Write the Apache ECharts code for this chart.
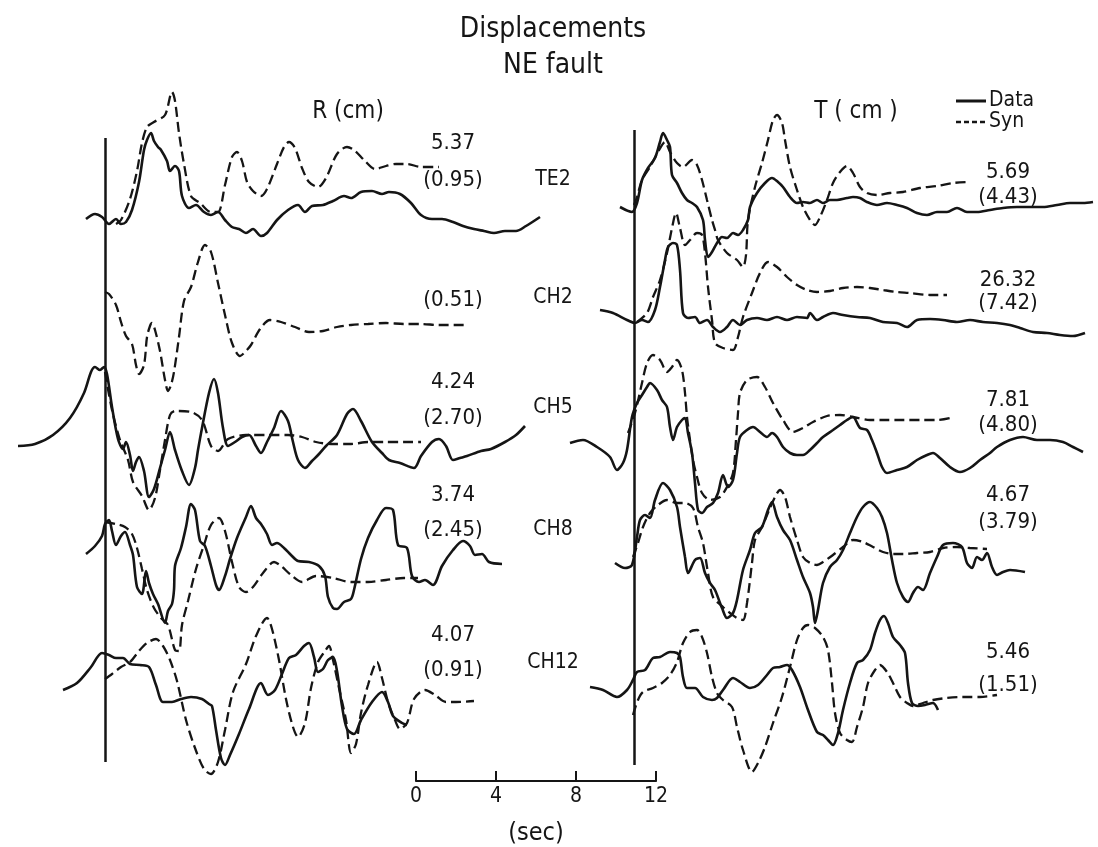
<!DOCTYPE html>
<html><head><meta charset="utf-8">
<script src="https://cdn.jsdelivr.net/npm/echarts@6/dist/echarts.min.js"></script>
<style>html,body{margin:0;padding:0;background:#fff}#c{width:1098px;height:847px}</style>
</head><body><div id="c"></div><script>
// ---------- DATA (time in s from reference line, amplitude in plot units) ----------
const stations = ['TE2','CH2','CH5','CH8','CH12'];
const rPeak = ['5.37','','4.24','3.74','4.07'];
const rRatio = ['(0.95)','(0.51)','(2.70)','(2.45)','(0.91)'];
const tPeak = ['5.69','26.32','7.81','4.67','5.46'];
const tRatio = ['(4.43)','(7.42)','(4.80)','(3.79)','(1.51)'];
const scaleTicks = [0,4,8,12];

const R_TE2_data = [[-0.95,0],[-0.5,5],[-0.15,2],[0.2,-5],[0.55,0],[0.8,-5],[1.05,-3],[1.35,9],[1.7,37],[1.95,69],[2.1,79],[2.3,86],[2.45,78],[2.65,72],[2.8,69],[3.1,58],[3.25,48],[3.5,53],[3.7,48],[3.85,23],[4.2,11],[4.55,14],[4.95,7],[5.3,4],[5.65,7],[6.0,-1],[6.35,-8],[6.7,-10],[7.05,-14],[7.4,-10],[7.8,-17],[8.1,-14],[8.6,-1],[9.15,9],[9.65,14],[10.0,7],[10.35,13],[10.9,14],[11.4,18],[11.95,23],[12.3,21],[12.8,27],[13.35,28],[13.85,25],[14.2,27],[14.75,25],[15.3,16],[15.8,4],[16.35,0],[16.85,0],[17.4,-3],[17.9,-7],[18.45,-10],[18.95,-12],[19.45,-14],[20.0,-12],[20.55,-12],[21.05,-7],[21.75,2]];
const R_TE2_syn = [[0.55,-5],[0.8,-1],[1.25,20],[1.6,48],[1.85,76],[2.1,92],[2.45,97],[3.0,104],[3.35,127],[3.5,118],[3.7,86],[3.95,55],[4.3,23],[4.75,16],[5.3,7],[5.65,7],[6.0,34],[6.35,62],[6.6,67],[6.85,58],[7.1,37],[7.4,28],[7.8,23],[8.1,30],[8.6,55],[8.95,72],[9.2,77],[9.5,71],[9.85,51],[10.2,37],[10.65,32],[11.05,41],[11.6,65],[12.1,72],[12.45,69],[13.0,58],[13.5,50],[14.05,53],[14.55,55],[15.1,55],[15.8,52],[16.7,52]];
const R_CH2_syn = [[0,33],[0.2,31],[0.55,20],[0.8,3],[1.05,-11],[1.35,-19],[1.55,-40],[1.7,-49],[1.95,-40],[2.1,-12],[2.25,-1],[2.35,2],[2.5,-5],[2.75,-26],[3.0,-55],[3.15,-66],[3.3,-60],[3.45,-47],[3.7,-12],[3.95,24],[4.3,38],[4.65,63],[5.0,80],[5.3,73],[5.65,42],[6.0,10],[6.35,-18],[6.75,-31],[7.0,-27],[7.3,-20],[7.75,-4],[8.25,5],[8.8,3],[9.5,-2],[10.2,-7],[10.9,-6],[11.6,-2],[12.3,0],[13.15,1],[14.05,2],[14.95,1],[15.8,1],[16.7,0],[18.1,0]];
const R_CH5_data = [[-4.35,-4],[-3.5,-2],[-2.6,7],[-1.75,24],[-1.05,49],[-0.7,70],[-0.5,75],[-0.25,72],[-0.05,75],[0.1,68],[0.35,35],[0.65,3],[0.9,-7],[1.05,0],[1.25,-13],[1.4,-29],[1.55,-20],[1.7,-15],[1.95,-29],[2.2,-55],[2.45,-47],[2.75,-26],[3.0,-8],[3.25,10],[3.5,-8],[3.85,-29],[4.2,-43],[4.5,-26],[4.65,-8],[4.85,14],[5.2,49],[5.45,63],[5.65,49],[5.9,14],[6.15,-4],[6.5,0],[6.85,5],[7.2,7],[7.55,-4],[7.8,-11],[8.1,0],[8.45,14],[8.8,31],[9.15,21],[9.4,0],[9.65,-18],[10.0,-26],[10.35,-19],[10.7,-12],[11.05,-4],[11.6,7],[12.1,28],[12.4,33],[12.8,21],[13.35,0],[13.85,-11],[14.2,-18],[14.75,-21],[15.45,-26],[15.8,-14],[16.35,0],[16.7,3],[17.05,-4],[17.4,-18],[17.75,-16],[18.1,-14],[18.8,-9],[19.3,-7],[20.0,0],[20.55,7],[21.0,16]];
const R_CH5_syn = [[0,70],[0.35,32],[0.75,2],[1.15,-18],[1.4,-40],[1.85,-54],[2.2,-68],[2.5,-56],[2.75,-28],[3.0,2],[3.25,27],[3.5,31],[4.3,30],[4.85,22],[5.3,-4],[5.65,-9],[6.15,3],[7.05,7],[8.1,7],[9.15,7],[9.85,5],[10.55,0],[11.4,-2],[12.3,-2],[13.15,0],[14.05,0],[14.95,0],[15.8,0]];
const R_CH8_data = [[-0.95,24],[-0.5,32],[-0.15,42],[0,54],[0.2,58],[0.35,47],[0.55,33],[0.8,42],[1.0,46],[1.25,33],[1.4,23],[1.6,-9],[1.85,-16],[2.05,7],[2.2,-5],[2.4,-16],[2.65,-26],[3.0,-45],[3.15,-33],[3.35,-26],[3.45,-12],[3.5,12],[3.8,30],[4.05,51],[4.3,74],[4.5,68],[4.75,37],[5.0,32],[5.3,12],[5.55,-7],[5.7,-12],[6.0,2],[6.25,19],[6.6,40],[7.05,61],[7.3,72],[7.55,60],[7.8,54],[8.1,44],[8.35,33],[8.6,35],[8.95,30],[9.3,23],[9.65,17],[10.2,16],[10.7,12],[11.0,2],[11.15,-19],[11.4,-30],[11.6,-31],[11.95,-24],[12.3,-21],[12.45,-12],[12.8,19],[13.15,40],[13.6,58],[14.05,70],[14.4,68],[14.65,33],[15.1,30],[15.35,2],[15.7,-4],[16.0,-2],[16.4,-7],[16.85,12],[17.4,28],[17.9,37],[18.25,32],[18.5,23],[18.85,24],[19.2,16],[19.85,14]];
const R_CH8_syn = [[0,56],[0.55,54],[1.0,51],[1.35,44],[1.6,30],[1.85,9],[2.1,-12],[2.45,-30],[2.8,-40],[3.15,-47],[3.5,-72],[3.7,-73],[3.85,-47],[4.15,-23],[4.55,9],[4.95,33],[5.3,53],[5.7,60],[6.0,47],[6.35,16],[6.7,-9],[7.05,-14],[7.4,-9],[7.9,5],[8.45,16],[8.8,12],[9.3,3],[9.85,-4],[10.55,2],[11.4,0],[12.3,-4],[13.15,-4],[14.05,-2],[14.95,0],[15.65,0]];
const R_CH12_data = [[-2.1,10],[-1.4,17],[-0.7,33],[-0.15,47],[0.2,45],[0.55,42],[0.9,42],[1.25,36],[1.75,35],[2.2,33],[2.55,15],[2.9,-2],[3.35,-2],[3.8,1],[4.3,3],[4.85,1],[5.2,-4],[5.35,-6],[5.55,-30],[5.8,-58],[6.0,-65],[6.25,-55],[6.7,-34],[7.2,-9],[7.8,17],[8.15,5],[8.5,10],[8.85,26],[9.2,42],[9.55,45],[9.95,54],[10.2,57],[10.45,43],[10.65,28],[10.9,31],[11.15,40],[11.4,43],[11.6,29],[11.85,-6],[12.1,-29],[12.45,-34],[12.8,-20],[13.35,-2],[13.85,8],[14.15,-2],[14.4,-16],[14.85,-23],[15.1,-25]];
const R_CH12_syn = [[0,21],[0.35,26],[0.8,33],[1.25,38],[1.7,49],[2.1,57],[2.55,61],[2.9,54],[3.25,40],[3.6,19],[4.05,-20],[4.5,-48],[4.95,-69],[5.3,-74],[5.65,-62],[6.0,-30],[6.4,8],[7.05,36],[7.55,64],[8.1,82],[8.35,71],[8.7,40],[9.05,1],[9.4,-27],[9.65,-37],[10.0,-23],[10.3,12],[10.65,38],[11.0,49],[11.2,54],[11.4,40],[11.7,12],[12.05,-20],[12.3,-53],[12.55,-44],[12.8,-13],[13.15,15],[13.6,38],[13.85,22],[14.15,-2],[14.5,-20],[14.75,-29],[15.1,-23],[15.45,1],[16.0,10],[16.5,5],[17.05,-2],[17.55,-2],[18.45,-1]];

const T_TE2_data = [[-0.7,-2],[-0.1,-7],[0.15,2],[0.4,25],[0.7,37],[1.05,47],[1.3,63],[1.45,72],[1.65,65],[1.8,58],[1.9,30],[2.15,22],[2.4,12],[2.65,5],[2.9,2],[3.15,-2],[3.45,-15],[3.55,-35],[3.7,-52],[3.9,-47],[4.15,-38],[4.4,-32],[4.65,-33],[4.95,-28],[5.2,-30],[5.45,-25],[5.7,-15],[5.8,-2],[6.15,12],[6.55,22],[6.9,27],[7.2,23],[7.45,18],[7.8,8],[8.15,2],[8.45,3],[8.8,2],[9.15,5],[9.45,2],[9.8,5],[10.15,5],[10.65,7],[10.95,8],[11.3,7],[11.65,3],[12.15,0],[12.65,2],[13.15,0],[13.65,-3],[14.15,-8],[14.65,-10],[15.15,-7],[15.65,-7],[16.15,-3],[16.65,-7],[17.15,-7],[17.8,-5],[18.45,-3],[19.15,-2],[19.8,-2],[20.45,-2],[21.15,0],[21.8,2],[22.45,2],[22.95,3]];
const T_TE2_syn = [[0,0],[0.15,8],[0.4,25],[0.8,38],[1.2,53],[1.55,63],[1.8,53],[2.15,42],[2.45,38],[2.9,45],[3.15,40],[3.4,25],[3.65,5],[3.9,-15],[4.05,-25],[4.2,-35],[4.65,-48],[5.15,-55],[5.45,-62],[5.6,-50],[5.7,-15],[6.05,18],[6.4,42],[6.7,65],[6.95,85],[7.15,90],[7.4,82],[7.55,65],[7.8,38],[8.15,15],[8.45,-2],[8.8,-15],[9.05,-20],[9.3,-12],[9.65,5],[9.95,22],[10.3,33],[10.65,39],[10.95,32],[11.3,18],[11.65,12],[12.15,10],[12.8,12],[13.45,13],[14.3,17],[15.15,19],[15.95,22],[16.65,23]];
const T_CH2_data = [[-1.7,10],[-1.05,7],[-0.35,0],[0.05,-3],[0.4,0],[0.7,-2],[1.05,10],[1.3,33],[1.55,60],[1.7,73],[1.95,77],[2.15,75],[2.3,50],[2.45,7],[2.7,2],[3.05,3],[3.3,-3],[3.65,0],[3.95,-7],[4.3,-12],[4.65,-7],[4.95,0],[5.3,-5],[5.65,0],[6.15,2],[6.65,0],[7.15,3],[7.65,0],[8.15,3],[8.65,2],[8.8,7],[9.15,0],[9.45,3],[9.95,7],[10.45,5],[11.15,3],[11.8,2],[12.45,-2],[13.15,-3],[13.65,-7],[14.15,0],[14.8,1],[15.45,0],[16.15,-2],[16.8,0],[17.45,-2],[18.15,-3],[18.8,-5],[19.3,-8],[19.95,-12],[20.65,-13],[21.3,-15],[21.95,-16],[22.55,-13]];
const T_CH2_syn = [[0.15,-2],[0.65,7],[0.95,23],[1.3,40],[1.65,67],[1.9,92],[2.1,107],[2.3,92],[2.55,75],[2.8,80],[3.15,87],[3.4,85],[3.55,67],[3.7,33],[3.9,0],[4.05,-23],[4.45,-28],[4.95,-30],[5.2,-17],[5.45,3],[5.9,27],[6.3,47],[6.7,58],[7.15,53],[7.65,43],[8.15,35],[8.65,30],[9.15,28],[9.8,29],[10.45,32],[11.15,33],[11.8,32],[12.45,30],[13.15,28],[13.8,27],[14.8,25],[15.65,25]];
const T_CH5_data = [[-3.2,-3],[-2.55,0],[-1.85,-7],[-1.2,-17],[-0.85,-30],[-0.55,-23],[-0.35,-10],[-0.1,23],[0.15,37],[0.4,45],[0.65,53],[0.8,57],[1.15,50],[1.4,40],[1.65,33],[1.8,13],[1.95,0],[2.15,13],[2.4,20],[2.55,22],[2.7,7],[2.9,-13],[3.05,-43],[3.2,-70],[3.4,-73],[3.65,-67],[3.95,-63],[4.2,-53],[4.45,-35],[4.7,-47],[4.95,-40],[5.15,-13],[5.3,3],[5.65,10],[5.95,13],[6.3,8],[6.65,3],[6.9,7],[7.15,3],[7.45,-7],[7.8,-13],[8.15,-15],[8.45,-15],[8.8,-10],[9.15,-3],[9.45,3],[9.95,10],[10.3,15],[10.65,20],[10.95,23],[11.3,12],[11.65,10],[11.9,0],[12.15,-13],[12.4,-27],[12.65,-33],[13.15,-30],[13.65,-27],[14.15,-20],[14.65,-15],[14.95,-13],[15.3,-18],[15.8,-27],[16.3,-32],[16.8,-28],[17.3,-20],[17.8,-13],[18.15,-7],[18.8,0],[19.45,3],[20.15,0],[20.8,0],[21.45,-2],[21.95,-7],[22.45,-12]];
const T_CH5_syn = [[-0.3,7],[0.05,27],[0.4,57],[0.65,77],[0.95,85],[1.3,80],[1.65,68],[1.9,73],[2.15,80],[2.4,70],[2.55,47],[2.65,23],[2.8,0],[2.95,-20],[3.15,-37],[3.4,-53],[3.8,-60],[4.3,-57],[4.65,-47],[4.95,-33],[5.1,0],[5.2,27],[5.3,47],[5.65,60],[6.15,63],[6.55,53],[6.95,37],[7.45,20],[7.95,8],[8.45,12],[8.95,18],[9.65,24],[10.3,25],[10.95,23],[11.8,20],[12.65,20],[13.45,20],[14.3,20],[15.15,20],[15.8,22]];
const T_CH8_data = [[-0.95,-8],[-0.45,-13],[-0.1,-10],[0.15,18],[0.3,35],[0.55,40],[0.8,37],[1.05,55],[1.45,72],[1.8,65],[2.15,48],[2.3,28],[2.55,-2],[2.7,-18],[3.05,-5],[3.3,-3],[3.55,-18],[3.8,-28],[4.05,-35],[4.3,-48],[4.4,-53],[4.65,-63],[4.95,-58],[5.15,-45],[5.45,-15],[5.8,5],[6.05,22],[6.4,28],[6.7,45],[6.9,53],[7.15,38],[7.45,25],[7.8,15],[8.15,-5],[8.45,-22],[8.8,-38],[8.95,-52],[9.05,-68],[9.2,-55],[9.45,-28],[9.8,-12],[10.15,-5],[10.45,5],[10.8,22],[11.15,38],[11.45,48],[11.8,53],[12.15,47],[12.4,38],[12.65,22],[12.9,-5],[13.15,-28],[13.45,-42],[13.7,-47],[13.95,-38],[14.2,-32],[14.45,-35],[14.8,-18],[15.15,-2],[15.45,10],[15.95,12],[16.4,8],[16.65,-8],[16.9,-13],[17.15,-2],[17.4,-5],[17.65,2],[17.9,-12],[18.15,-20],[18.45,-17],[18.8,-15],[19.55,-17]];
const T_CH8_syn = [[-0.05,-2],[0.2,12],[0.45,28],[0.8,42],[1.2,50],[1.65,55],[2.15,52],[2.55,52],[2.95,47],[3.2,28],[3.45,12],[3.7,-18],[3.95,-42],[4.45,-52],[4.8,-58],[5.15,-63],[5.45,-65],[5.65,-48],[5.9,-8],[6.05,15],[6.4,28],[6.8,47],[7.05,58],[7.3,65],[7.55,58],[7.8,38],[8.15,15],[8.45,-2],[8.8,-8],[9.15,-10],[9.45,-7],[9.95,0],[10.45,8],[10.95,15],[11.45,13],[11.95,8],[12.45,3],[12.95,1],[13.45,1],[14.15,2],[14.8,3],[15.45,7],[16.15,8],[16.8,7],[17.65,6]];
const T_CH12_data = [[-2.2,8],[-1.55,5],[-0.85,-2],[-0.35,5],[-0.05,15],[0.15,23],[0.55,25],[0.95,37],[1.3,38],[1.8,43],[2.15,42],[2.3,38],[2.45,18],[2.65,7],[3.05,7],[3.45,-2],[3.9,-5],[4.15,-3],[4.45,5],[4.95,17],[5.3,13],[5.8,7],[6.2,10],[6.65,20],[6.95,27],[7.3,28],[7.65,30],[7.9,25],[8.3,8],[8.7,-15],[9.15,-37],[9.45,-40],[9.7,-45],[9.95,-50],[10.2,-38],[10.45,-15],[10.8,12],[11.15,32],[11.45,35],[11.8,45],[12.05,62],[12.3,75],[12.5,79],[12.7,72],[12.95,58],[13.3,50],[13.55,42],[13.7,12],[13.9,-8],[14.2,-11],[14.55,-10],[14.95,-8],[15.2,-15]];
const T_CH12_syn = [[-0.05,-20],[0.2,-5],[0.45,3],[0.95,7],[1.4,12],[1.8,20],[2.15,33],[2.45,52],[2.8,63],[3.15,65],[3.4,58],[3.65,42],[3.9,18],[4.15,2],[4.45,-5],[4.9,-12],[5.15,-32],[5.45,-55],[5.9,-77],[6.2,-68],[6.55,-52],[6.95,-28],[7.4,-2],[7.8,28],[8.15,55],[8.45,67],[8.7,70],[9.05,67],[9.45,58],[9.7,45],[9.9,12],[10.05,-18],[10.3,-38],[10.65,-45],[10.9,-47],[11.15,-32],[11.45,-12],[11.7,12],[12.05,25],[12.3,30],[12.65,23],[12.95,12],[13.3,-2],[13.65,-8],[13.95,-11],[14.45,-8],[14.95,-5],[15.65,-3],[16.45,-2],[17.3,-2],[18.15,0]];

// ---------- LAYOUT ----------
const W = 1098, H = 847, PX_PER_S = 20;
const R_REF_X = 105, T_REF_X = 634;
const R_BASE = [219, 325, 442, 578, 700];
const T_BASE = [205, 320, 440, 555, 695];
const R_LINE = [138, 762], T_LINE = [130, 765];
const INK = '#151515';

const chart = echarts.init(document.getElementById('c'), null, {renderer: 'canvas'});

function trace(data, base, g, dashed) {
  return {
    type: 'line', xAxisIndex: g, yAxisIndex: g, silent: true, animation: false,
    symbol: 'none', smooth: 0.3,
    data: data.map(p => [p[0], p[1] - base]),
    lineStyle: dashed ? {color: INK, width: 2.3, type: [10, 5]} : {color: INK, width: 2.6}
  };
}
function refLine(g, ys) {
  return {
    type: 'line', xAxisIndex: g, yAxisIndex: g, silent: true, animation: false, data: [],
    markLine: {symbol: 'none', silent: true, animation: false, label: {show: false},
      lineStyle: {color: INK, width: 2.5, type: 'solid'},
      data: [[{coord: [0, -ys[0]]}, {coord: [0, -ys[1]]}]]}
  };
}

const series = [
  refLine(0, R_LINE), refLine(1, T_LINE),
  trace(R_TE2_data, R_BASE[0], 0, false), trace(R_TE2_syn, R_BASE[0], 0, true),
  trace(R_CH2_syn, R_BASE[1], 0, true),
  trace(R_CH5_data, R_BASE[2], 0, false), trace(R_CH5_syn, R_BASE[2], 0, true),
  trace(R_CH8_data, R_BASE[3], 0, false), trace(R_CH8_syn, R_BASE[3], 0, true),
  trace(R_CH12_data, R_BASE[4], 0, false), trace(R_CH12_syn, R_BASE[4], 0, true),
  trace(T_TE2_data, T_BASE[0], 1, false), trace(T_TE2_syn, T_BASE[0], 1, true),
  trace(T_CH2_data, T_BASE[1], 1, false), trace(T_CH2_syn, T_BASE[1], 1, true),
  trace(T_CH5_data, T_BASE[2], 1, false), trace(T_CH5_syn, T_BASE[2], 1, true),
  trace(T_CH8_data, T_BASE[3], 1, false), trace(T_CH8_syn, T_BASE[3], 1, true),
  trace(T_CH12_data, T_BASE[4], 1, false), trace(T_CH12_syn, T_BASE[4], 1, true),
  {type: 'line', xAxisIndex: 2, yAxisIndex: 2, data: [], silent: true}
];

const FONT = '"DejaVu Sans Condensed", "Liberation Sans Narrow", Lato, sans-serif';
function txt(s, x, y, size, align) {
  return {type: 'text', silent: true, style: {text: s, x: x, y: y, fill: INK,
    font: size + 'px ' + FONT, align: align || 'center', verticalAlign: 'middle'}};
}
const STATION_X = 553, R_VAL_X = 453, T_VAL_X = 1008;
const STATION_Y = [180, 298, 408, 530, 663];
const R_PEAK_Y = [143, 0, 382, 495, 635], R_RATIO_Y = [180, 300, 418, 530, 670];
const T_PEAK_Y = [172, 280, 400, 495, 652], T_RATIO_Y = [197, 303, 425, 522, 685];

const graphics = [
  txt('Displacements', 553, 30, 28), txt('NE fault', 553, 66, 28),
  txt('R (cm)', 348, 112, 24), txt('T ( cm )', 856, 112, 24),
  {type: 'line', silent: true, shape: {x1: 956, y1: 101, x2: 986, y2: 101}, style: {stroke: INK, lineWidth: 3}},
  {type: 'line', silent: true, shape: {x1: 956, y1: 122, x2: 986, y2: 122}, style: {stroke: INK, lineWidth: 2.5, lineDash: [5, 3]}},
  txt('Data', 989, 101, 21, 'left'), txt('Syn', 989, 122, 21, 'left')
];
stations.forEach((s, i) => {
  graphics.push(txt(s, STATION_X, STATION_Y[i], 21));
  if (rPeak[i]) graphics.push(txt(rPeak[i], R_VAL_X, R_PEAK_Y[i], 22));
  graphics.push(txt(rRatio[i], R_VAL_X, R_RATIO_Y[i], 22));
  graphics.push(txt(tPeak[i], T_VAL_X, T_PEAK_Y[i], 22));
  graphics.push(txt(tRatio[i], T_VAL_X, T_RATIO_Y[i], 22));
});

const hid = {show: false};
chart.setOption({
  backgroundColor: '#fff',
  animation: false,
  grid: [
    {left: 0, top: 0, width: W, height: H},
    {left: 0, top: 0, width: W, height: H},
    {left: 416, top: 700, width: 12 * PX_PER_S, height: 87}
  ],
  xAxis: [
    {type: 'value', gridIndex: 0, min: -R_REF_X / PX_PER_S, max: (W - R_REF_X) / PX_PER_S, ...hid},
    {type: 'value', gridIndex: 1, min: -T_REF_X / PX_PER_S, max: (W - T_REF_X) / PX_PER_S, ...hid},
    {type: 'value', gridIndex: 2, min: scaleTicks[0], max: scaleTicks[scaleTicks.length - 1], interval: 4,
      axisLine: {lineStyle: {color: INK, width: 2.2}},
      axisTick: {inside: true, length: 10, lineStyle: {color: INK, width: 2}},
      axisLabel: {color: INK, fontSize: 21, fontFamily: FONT, margin: 5},
      splitLine: hid,
      name: '(sec)', nameLocation: 'middle', nameGap: 40,
      nameTextStyle: {color: INK, fontSize: 25, fontFamily: FONT}}
  ],
  yAxis: [
    {type: 'value', gridIndex: 0, min: -H, max: 0, ...hid},
    {type: 'value', gridIndex: 1, min: -H, max: 0, ...hid},
    {type: 'value', gridIndex: 2, min: 0, max: 1, ...hid}
  ],
  series: series,
  graphic: graphics
});
</script></body></html>
